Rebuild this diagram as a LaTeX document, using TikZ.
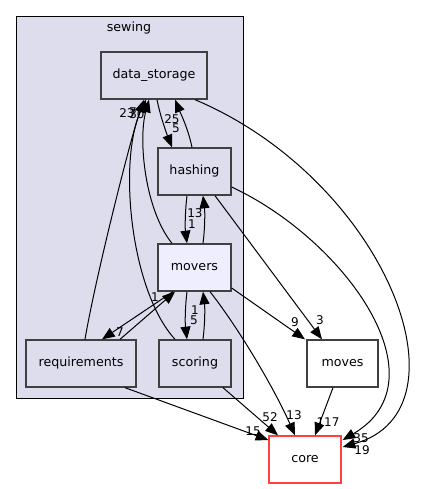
\documentclass[tikz,border=0pt]{standalone}
\usepackage{fontspec}
\setmainfont{DejaVu Sans}
\usetikzlibrary{arrows.meta,calc}
\definecolor{clfill}{HTML}{DDDDEE}
\definecolor{nodefill}{HTML}{DDDDEE}
\definecolor{curfill}{HTML}{EEEEFF}
\definecolor{nodeborder}{HTML}{404040}
\definecolor{corered}{HTML}{FF4040}
\begin{document}
\begin{tikzpicture}[x=0.75pt,y=-0.75pt,
  box/.style={draw=nodeborder,line width=1pt,fill=nodefill,minimum height=35.25pt,inner sep=0pt,font=\fontsize{9.5}{11}\selectfont},
  lbl/.style={inner sep=0pt,font=\fontsize{9}{10}\selectfont},
  dep/.style={line width=0.75pt,-{Triangle[length=9.5pt,width=7.5pt]}}]
\useasboundingbox (0,0) rectangle (427,489);
\fill[white] (0,0) rectangle (427,489);
\draw[fill=clfill,line width=0.75pt] (16,16) rectangle (243,398);
\node[inner sep=0pt,font=\fontsize{9.5}{11}\selectfont] (cl) at (129,28) {sewing};

\node[box,minimum width=79.5pt] (ds) at (154,75.5) {data\_storage};
\node[box,minimum width=54.75pt] (ha) at (194.5,171.5) {hashing};
\node[box,minimum width=54.75pt,fill=curfill] (mv) at (194.5,267.5) {movers};
\node[box,minimum width=82.5pt] (rq) at (81,363.5) {requirements};
\node[box,minimum width=54pt] (sc) at (195,363.5) {scoring};
\node[box,minimum width=53.25pt,fill=white] (mo) at (342.5,363.5) {moves};
\node[box,minimum width=54pt,fill=white,draw=corered] (co) at (305,459.5) {core};

% data_storage <-> hashing
\draw[dep] ($(ds.south)+(3,0)$) .. controls (160,115) and (166,132) .. ($(ha.north)+(-22.5,0)$);
\draw[dep] ($(ha.north)+(-2.5,0)$) .. controls (188,128) and (180,112) .. ($(ds.south)+(21,0)$);
% hashing <-> movers
\draw[dep] ($(ha.south)+(-7.5,0)$) .. controls (185,212) and (185,228) .. ($(mv.north)+(-7.5,0)$);
\draw[dep] ($(mv.north)+(8.5,0)$) .. controls (205,228) and (205,212) .. ($(ha.south)+(8.5,0)$);
% into data_storage
\draw[dep] ($(mv.north)+(-22.5,0)$) .. controls (145,210) and (138,140) .. ($(ds.south)+(-5,0)$);
\draw[dep] ($(sc.north)+(-20,0)$) .. controls (130,290) and (118,160) .. ($(ds.south)+(-8,0)$);
\draw[dep] ($(rq.north)+(4,0)$) .. controls (95,280) and (130,140) .. ($(ds.south)+(-10,0)$);
% movers <-> requirements
\draw[dep] ($(mv.south)+(-21.5,0)$) -- ($(rq.north)+(21,0)$);
\draw[dep] ($(rq.north)+(39,0)$) -- ($(mv.south)+(-19.5,0)$);
% movers <-> scoring
\draw[dep] ($(mv.south)+(-7.5,0)$) .. controls (185,308) and (185,323) .. ($(sc.north)+(-8,0)$);
\draw[dep] ($(sc.north)+(8,0)$) .. controls (205,323) and (205,308) .. ($(mv.south)+(8.5,0)$);
% to moves
\draw[dep] ($(mv.east)+(0,20.5)$) -- ($(mo.north)+(-37.5,0)$);
\draw[dep] ($(ha.south)+(20.5,0)$) -- ($(mo.north)+(-20.5,0)$);
% to core
\draw[dep] ($(mv.south)+(15.5,0)$) .. controls (240,330) and (275,390) .. ($(co.north)+(-10,0)$);
\draw[dep] ($(sc.south)+(28,0)$) -- ($(co.north)+(-27,0)$);
\draw[dep] ($(rq.south)+(44,0)$) -- ($(co.west)+(0,-19.5)$);
\draw[dep] ($(mo.south)+(-9.5,0)$) -- ($(co.north)+(10,0)$);
\draw[dep] ($(ha.east)+(0,15.5)$) .. controls (345,240) and (445,380) .. ($(co.east)+(1,-19.5)$);
\draw[dep] ($(ds.south)+(41,0)$) .. controls (385,180) and (475,410) .. ($(co.east)+(1,-12.5)$);

% labels
\node[lbl] (l1) at (172,119) {25};
\node[lbl] (l2) at (176,128) {5};
\node[lbl] (l3) at (195,213) {13};
\node[lbl] (l4) at (192,224) {1};
\node[lbl] (l5) at (127,113) {23};
\node[lbl] (l6) at (133,112) {7};
\node[lbl] (l7) at (137,114) {30};
\node[lbl] (l8) at (120,332) {7};
\node[lbl] (l9) at (155,297) {1};
\node[lbl] (l10) at (195,310) {1};
\node[lbl] (l11) at (194,320) {5};
\node[lbl] (l12) at (295,322) {9};
\node[lbl] (l13) at (320,320) {3};
\node[lbl] (l14) at (270,417) {52};
\node[lbl] (l15) at (294,415) {13};
\node[lbl] (l16) at (253,431) {15};
\node[lbl] (l17) at (328,422) {117};
\node[lbl] (l18) at (361,438) {35};
\node[lbl] (l19) at (362,450) {19};
\end{tikzpicture}
\end{document}
